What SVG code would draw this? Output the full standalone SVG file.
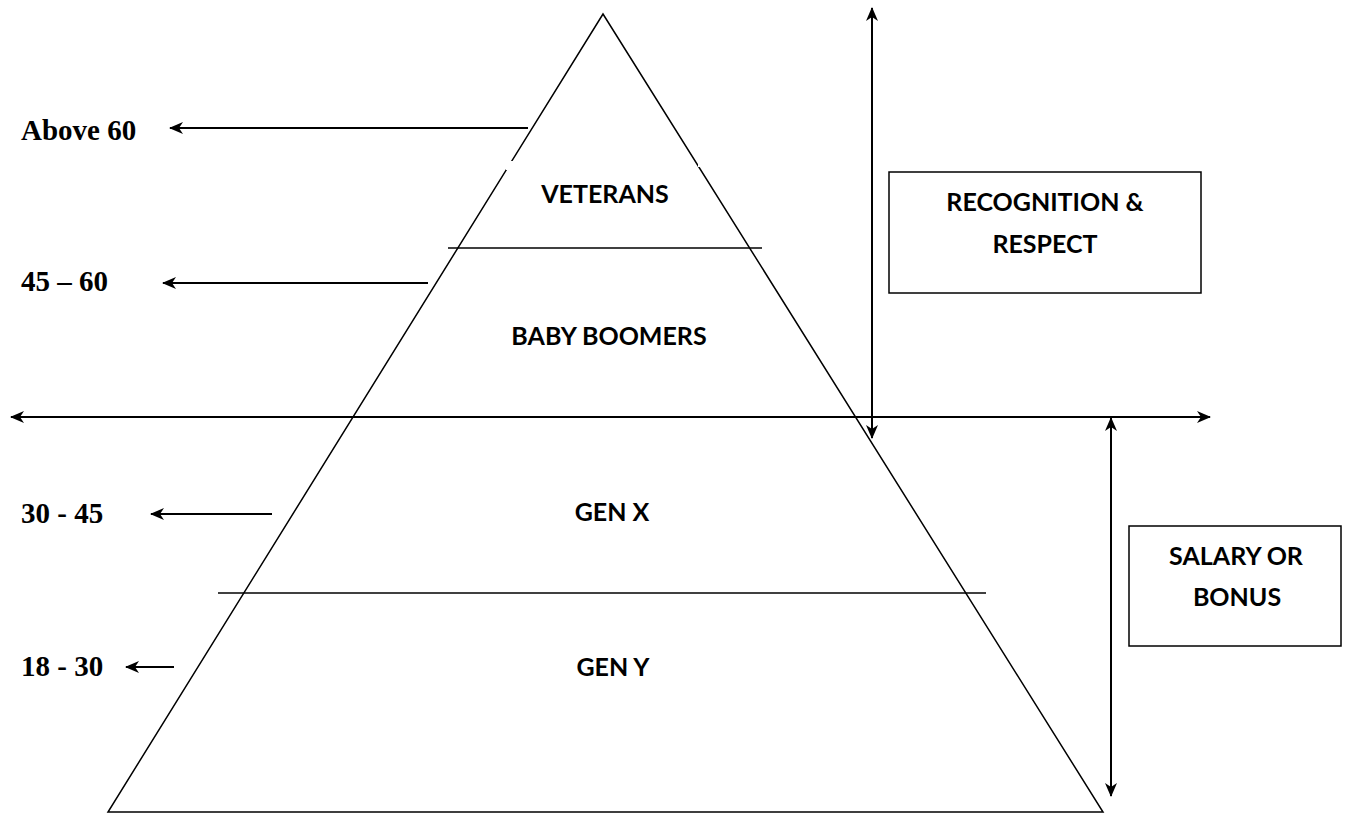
<svg xmlns="http://www.w3.org/2000/svg" width="1349" height="815" viewBox="0 0 1349 815">
<style>
.ln{stroke:#000;stroke-width:1.5;fill:none}
.ar{stroke:#000;stroke-width:2;fill:none}
.lbl{font-family:"Liberation Serif",serif;font-weight:bold;font-size:29px;fill:#000}
.in{font-family:Lato,"Liberation Sans",sans-serif;font-weight:bold;font-size:25px;fill:#000;text-anchor:middle}
.box{fill:#fff;stroke:#000;stroke-width:1.5}
</style>
<defs>
<marker id="ah" viewBox="0 0 14 12" refX="13" refY="6" markerWidth="14" markerHeight="12" markerUnits="userSpaceOnUse" orient="auto-start-reverse">
<path d="M0,0 L14,6 L0,12 L4,6 Z" fill="#000"/>
</marker>
</defs>
<rect width="1349" height="815" fill="#fff"/>
<g id="pyramid">
<polygon class="ln" points="603,14 1103,812 108,812"/>
<rect x="506" y="161" width="8" height="9" fill="#fff"/>
<rect x="698" y="158" width="8" height="9" fill="#fff"/>
<line class="ln" x1="448" y1="248" x2="762" y2="248"/>
<line class="ln" x1="218" y1="593" x2="986" y2="593"/>
</g>
<g id="connectors">
<line class="ar" x1="528" y1="128" x2="170" y2="128" marker-end="url(#ah)"/>
<line class="ar" x1="428" y1="283" x2="163" y2="283" marker-end="url(#ah)"/>
<line class="ar" x1="272" y1="514" x2="151" y2="514" marker-end="url(#ah)"/>
<line class="ar" x1="174" y1="667" x2="126" y2="667" marker-end="url(#ah)"/>
<line class="ar" x1="11" y1="417" x2="1210" y2="417" marker-start="url(#ah)" marker-end="url(#ah)"/>
<line class="ar" x1="872" y1="8" x2="872" y2="438" marker-start="url(#ah)" marker-end="url(#ah)"/>
<line class="ar" x1="1111" y1="418" x2="1111" y2="796" marker-start="url(#ah)" marker-end="url(#ah)"/>
</g>
<g id="age-labels">
<text class="lbl" x="21" y="140">Above 60</text>
<text class="lbl" x="21" y="291">45 – 60</text>
<text class="lbl" x="21" y="523">30 - 45</text>
<text class="lbl" x="21" y="676">18 - 30</text>
</g>
<g id="veterans"><text class="in" x="605" y="203">VETERANS</text></g>
<g id="baby-boomers"><text class="in" x="609" y="345">BABY BOOMERS</text></g>
<g id="gen-x"><text class="in" x="612" y="521">GEN X</text></g>
<g id="gen-y"><text class="in" x="613" y="676">GEN Y</text></g>
<g id="recognition">
<rect class="box" x="889" y="172" width="312" height="121"/>
<text class="in" x="1045" y="211">RECOGNITION &amp;</text>
<text class="in" x="1045" y="253">RESPECT</text>
</g>
<g id="salary">
<rect class="box" x="1129" y="526" width="212" height="120"/>
<text class="in" x="1236" y="565">SALARY OR</text>
<text class="in" x="1237" y="606">BONUS</text>
</g>
</svg>
